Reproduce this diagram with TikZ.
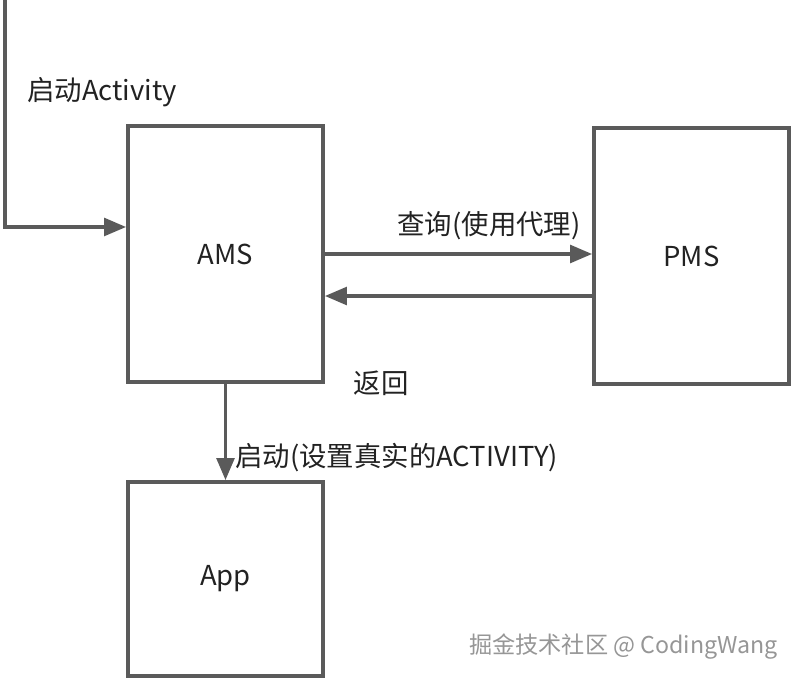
\documentclass[tikz,border=0pt]{standalone}
\usepackage{fontspec}
\setmainfont{Noto Sans CJK SC}
\usepackage{xcolor}
\usetikzlibrary{arrows.meta,positioning,calc}
\definecolor{lineGray}{RGB}{90,90,90}
\definecolor{textDark}{RGB}{34,34,34}
\definecolor{markGray}{RGB}{150,150,150}

\begin{document}
\begin{tikzpicture}[
    x=0.025cm,y=-0.025cm,
    module/.style={draw=lineGray,line width=2.6pt,fill=white,align=center,
      font=\fontsize{19.5}{22}\selectfont,text=textDark,inner sep=0pt},
    lbl/.style={font=\fontsize{19.5}{22}\selectfont,text=textDark,inner sep=0pt},
    flow/.style={-{Triangle[length=5.5mm,width=4.4mm]},line width=2.6pt,color=lineGray}
  ]
    \useasboundingbox (0,0) rectangle (798,682);
    \node[module,minimum width=4.875cm,minimum height=6.4cm] (ams) at (225.5,254) {AMS};
    \node[module,minimum width=4.875cm,minimum height=6.4cm] (pms) at (691.5,256) {PMS};
    \node[module,minimum width=4.875cm,minimum height=4.85cm] (app) at (225.5,579) {App};
    \coordinate (entry) at (5,0);

    % Aufruf von oben, Abfrage und Rueckgabe, Start der App
    \draw[flow] (entry) |- ([yshift=0.675cm]ams.west);
    \draw[flow] (ams.east) -- (ams.east -| pms.west);
    \draw[flow] ([yshift=-1cm]pms.west) -- ([yshift=-1cm]pms.west -| ams.east);
    \draw[flow] (ams.south) -- (app.north);

    \node[lbl,anchor=west] (start) at (27,92) {启动Activity};
    \node[lbl] (query) at (489,226) {查询(使用代理)};
    \node[lbl] (back) at (381,383) {返回};
    \node[lbl,anchor=west] (launch) at (235,458) {启动(设置真实的ACTIVITY)};
    \node[anchor=east,inner sep=0pt,text=markGray,font=\fontsize{16.5}{20}\selectfont] (mark) at (778,647) {掘金技术社区 @ CodingWang};
\end{tikzpicture}
\end{document}
